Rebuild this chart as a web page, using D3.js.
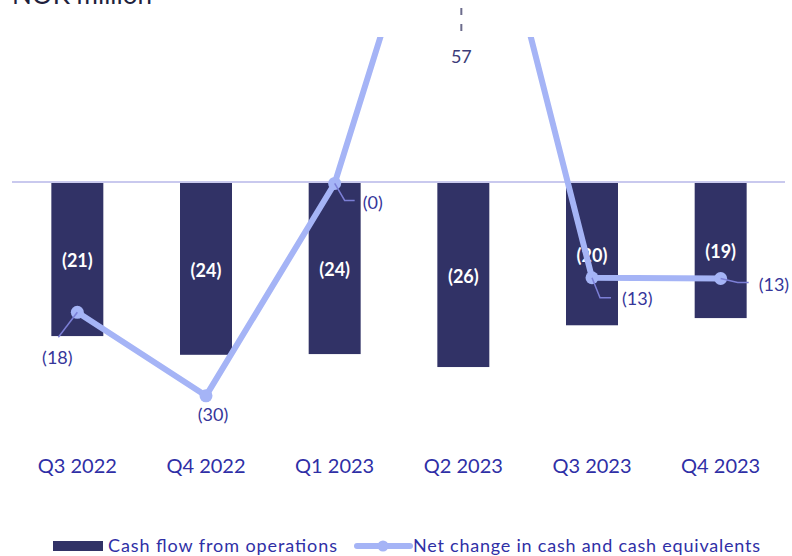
<!DOCTYPE html>
<html><head><meta charset="utf-8">
<script src="https://cdn.jsdelivr.net/npm/d3@7"></script>
<style>body{margin:0;background:#fff}svg{display:block}</style>
</head><body>
<svg id="c" width="792" height="556"></svg>
<script>
const categories = ["Q3 2022","Q4 2022","Q1 2023","Q2 2023","Q3 2023","Q4 2023"];
const cashFlowOps = [-21.4, -24.0, -23.9, -25.7, -19.9, -18.9];
const netChange = [-18.1, -29.7, -0.2, 57, -13.3, -13.4];
const unitLabel = "NOK million";
const seriesNames = ["Cash flow from operations", "Net change in cash and cash equivalents"];

const FONT = "Lato, 'Open Sans', sans-serif";
const BAR = "#313266", LINE = "#a5b4f6", LBL = "#36369a", AXIS = "#2f2fa6";

const svg = d3.select("#c");
const x = d3.scaleBand().domain(categories).range([13, 785]).paddingInner(0.596).paddingOuter(0.298);
const y = d3.scaleLinear().domain([-40, 0]).range([470, 182]);
const cx = d => x(d) + x.bandwidth()/2;
const fmt = v => v < 0 ? `(${Math.round(-v)})` : `${Math.round(v)}`;

// title (cut off at top, as in the source)
svg.append("text").attr("x", 12).attr("y", 4).attr("font-family", FONT).attr("font-size", 26)
  .attr("fill", "#1f1f3d").text(unitLabel);

// bars
svg.selectAll("rect.bar").data(categories).join("rect").attr("class","bar")
  .attr("x", d => x(d)).attr("width", x.bandwidth())
  .attr("y", (d,i) => Math.min(y(0), y(cashFlowOps[i])))
  .attr("height", (d,i) => Math.abs(y(cashFlowOps[i]) - y(0)))
  .attr("fill", BAR);

// zero line
svg.append("line").attr("x1", 12).attr("x2", 785).attr("y1", y(0)).attr("y2", y(0))
  .attr("stroke", "#c9c9ee").attr("stroke-width", 2);

// bar labels
svg.selectAll("text.bl").data(categories).join("text").attr("class","bl")
  .attr("x", d => cx(d)).attr("y", (d,i) => (y(0)+y(cashFlowOps[i]))/2 + 2)
  .attr("dy", "0.35em").attr("text-anchor","middle").attr("font-family", FONT)
  .attr("font-weight", "bold").attr("font-size", 18).attr("fill", "#fff")
  .text((d,i) => fmt(cashFlowOps[i]));

// line (clipped at top)
svg.append("clipPath").attr("id","clip").append("rect").attr("x",0).attr("y",37).attr("width",792).attr("height",519);
const g = svg.append("g").attr("clip-path","url(#clip)");
const line = d3.line().x((d,i) => cx(categories[i])).y(d => y(d));
g.append("path").datum(netChange).attr("d", line).attr("fill","none")
  .attr("stroke", LINE).attr("stroke-width", 6).attr("stroke-linejoin","round");
g.selectAll("circle").data(netChange).join("circle")
  .attr("cx", (d,i) => cx(categories[i])).attr("cy", d => y(d)).attr("r", 6.5).attr("fill", LINE);

// line labels with leaders
const layout = [
  {leader: [[0,0],[-19,25]], lx: -20, ly: 45, anchor: "middle"},
  {leader: null, lx: 7, ly: 19, anchor: "middle"},
  {leader: [[0,0],[10,17],[20,17]], lx: 28, ly: 19, anchor: "start"},
  {leader: null, lx: -2, ly: 0, anchor: "middle", top: true},
  {leader: [[0,0],[8,20],[19,20]], lx: 30, ly: 21, anchor: "start"},
  {leader: [[0,0],[17,4],[28,4]], lx: 38, ly: 6, anchor: "start"}
];
netChange.forEach((v,i) => {
  const px = cx(categories[i]), py = y(v), L = layout[i];
  if (L.top) {
    const tx = px + L.lx;
    svg.append("line").attr("x1", tx).attr("x2", tx).attr("y1", 8).attr("y2", 34)
      .attr("stroke", "#6c6c8c").attr("stroke-width", 2).attr("stroke-dasharray", "7,9");
    svg.append("text").attr("x", tx).attr("y", 57).attr("dy","0.35em").attr("text-anchor","middle")
      .attr("font-family", FONT).attr("font-size", 18).attr("fill", "#3c3c78").text(fmt(v));
    return;
  }
  if (L.leader) {
    svg.append("path").attr("d", d3.line()(L.leader.map(p => [px+p[0], py+p[1]])))
      .attr("fill","none").attr("stroke", "#7c7fd6").attr("stroke-width", 1.5);
  }
  svg.append("text").attr("x", px + L.lx).attr("y", py + L.ly).attr("dy","0.35em")
    .attr("text-anchor", L.anchor).attr("font-family", FONT).attr("font-size", 18)
    .attr("fill", LBL).text(fmt(v));
});

// x axis labels
svg.selectAll("text.xl").data(categories).join("text").attr("class","xl")
  .attr("x", d => cx(d)).attr("y", 466).attr("dy","0.35em").attr("text-anchor","middle")
  .attr("font-family", FONT).attr("font-size", 20).attr("fill", AXIS).text(d => d);

// legend
const lg = svg.append("g");
lg.append("rect").attr("x", 53).attr("y", 541).attr("width", 50).attr("height", 10).attr("fill", BAR);
lg.append("text").attr("x", 108).attr("y", 552).attr("font-family", FONT).attr("font-size", 18)
  .attr("fill", AXIS).attr("textLength", 229).attr("lengthAdjust","spacing").text(seriesNames[0]);
lg.append("line").attr("x1", 357).attr("x2", 410).attr("y1", 546).attr("y2", 546)
  .attr("stroke", LINE).attr("stroke-width", 6).attr("stroke-linecap","round");
lg.append("circle").attr("cx", 383).attr("cy", 546).attr("r", 5.5).attr("fill", LINE);
lg.append("text").attr("x", 413).attr("y", 552).attr("font-family", FONT).attr("font-size", 18)
  .attr("fill", AXIS).attr("textLength", 347).attr("lengthAdjust","spacing").text(seriesNames[1]);
</script>
</body></html>
